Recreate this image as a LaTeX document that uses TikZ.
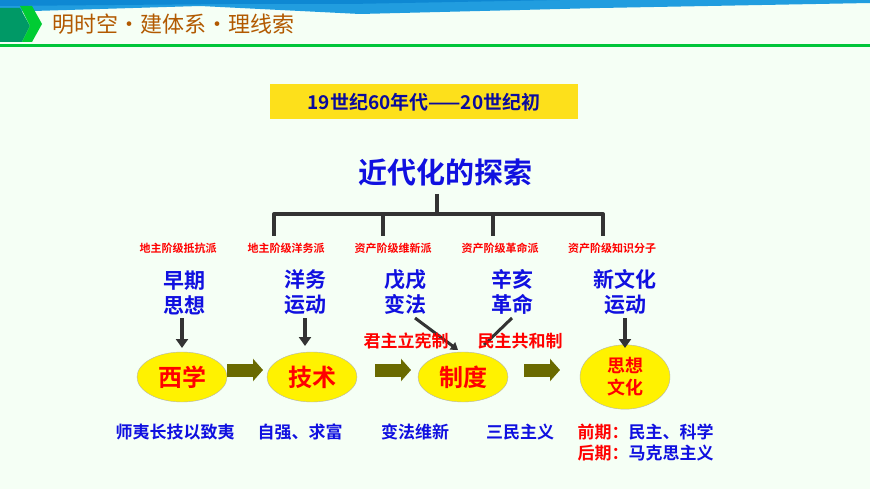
\documentclass[tikz,border=0pt]{standalone}
\usepackage{fontspec}
\setmainfont{Noto Sans CJK SC}
\newfontfamily\cjkb{Noto Sans CJK SC Bold}
\usetikzlibrary{arrows.meta,shadings,shapes.geometric}
\definecolor{tblue}{HTML}{1010E0}
\definecolor{tred}{HTML}{FF0000}
\definecolor{olivea}{HTML}{6A6A00}
\tikzset{
 blue/.style={text=tblue,font=\cjkb\fontsize{21}{25}\selectfont,align=center},
 lab/.style={text=tred,font=\cjkb\fontsize{11}{13}\selectfont},
 ell/.style={ellipse,draw=gray!60,fill=yellow,minimum width=90pt,minimum height=50pt,text=tred,font=\cjkb\fontsize{24}{26}\selectfont,align=center},
 down/.style={-{Triangle[length=9pt,width=12pt]},line width=4pt,draw=black!80},
 bot/.style={font=\cjkb\fontsize{17}{20}\selectfont},
 fat/.style={-{Triangle[length=10pt,width=22pt]},line width=13pt,draw=olivea},
}
\begin{document}
\begin{tikzpicture}[x=1pt,y=-1pt]
\useasboundingbox (0,0) rectangle (870,489);
\fill[white!96!green] (0,0) rectangle (870,489);
% header
\fill[cyan!80!blue!90] (0,0) -- (870,0) -- (870,3) -- (600,8) -- (360,14) -- (200,6) -- (0,12) -- cycle;
\fill[cyan!70!blue] (0,0) -- (560,0) -- (350,4) -- (230,4) -- (0,6) -- cycle;
\fill[teal!80!green] (0,8) -- (20,8) -- (30,26) -- (22,42) -- (0,42) -- cycle;
\fill[green!60!teal] (20,6) -- (32,6) -- (42,24) -- (32,42) -- (22,42) -- (30,26) -- cycle;
\fill[green!55!teal] (0,44) rectangle (870,47);
\node[anchor=west,text=orange!70!black,font=\fontsize{22}{24}\selectfont,inner sep=0] (title) at (52,24) {明时空·建体系·理线索};
% top box
\node[fill=yellow!80!orange!90,minimum width=308pt,minimum height=35pt,text=tblue!70!black,font=\cjkb\fontsize{19}{22}\selectfont] (era) at (424,102) {19世纪60年代——20世纪初};
\node[text=tblue,font=\cjkb\fontsize{29}{32}\selectfont] (main) at (445,172) {近代化的探索};
% bracket
\coordinate (t) at (437,194);
\draw[line width=4pt,draw=black!80] (t) -- (437,214);
\draw[line width=4pt,draw=black!80,line join=round] (274,236) -- (274,214) -- (603,214) -- (603,236);
\draw[line width=4pt,draw=black!80] (383,214) -- (383,236);
\draw[line width=4pt,draw=black!80] (493,214) -- (493,236);
% labels
\node[lab] (l1) at (178,248) {地主阶级抵抗派};
\node[lab] (l2) at (286,248) {地主阶级洋务派};
\node[lab] (l3) at (393,248) {资产阶级维新派};
\node[lab] (l4) at (500,248) {资产阶级革命派};
\node[lab] (l5) at (612,248) {资产阶级知识分子};
\node[blue] (b1) at (184,293) {早期\\思想};
\node[blue] (b2) at (305,292) {洋务\\运动};
\node[blue] (b3) at (405,292) {戊戌\\变法};
\node[blue] (b4) at (512,292) {辛亥\\革命};
\node[blue] (b5) at (625,292) {新文化\\运动};
\node[ell] (e1) at (182,377) {西学};
\node[ell] (e2) at (312,377) {技术};
\node[ell] (e3) at (463,377) {制度};
\node[ell,font=\cjkb\fontsize{18}{22}\selectfont] (e4) at (625,377) {思想\\文化};
\draw[down] (182,318) -- (182,348);
\draw[down] (305,318) -- (305,346);
\draw[down] (625,318) -- (625,348);
\draw[line width=3pt,draw=black!80,-{Triangle[length=7pt,width=9pt]}] (415,318) -- (458,350);
\draw[line width=3pt,draw=black!80] (512,318) -- (484,345);
\node[text=tred,font=\cjkb\fontsize{17}{20}\selectfont] (r1) at (406,341) {君主立宪制};
\node[text=tred,font=\cjkb\fontsize{17}{20}\selectfont] (r2) at (520,341) {民主共和制};
\draw[fat] (227,370) coordinate (a1) -- ++(36,0);
\draw[fat] (375,370) coordinate (a2) -- ++(36,0);
\draw[fat] (524,370) coordinate (a3) -- ++(36,0);
% bottom
\node[bot,text=tblue] (s1) at (175,432) {师夷长技以致夷};
\node[bot,text=tblue] (s2) at (300,432) {自强、求富};
\node[bot,text=tblue] (s3) at (415,432) {变法维新};
\node[bot,text=tblue] (s4) at (520,432) {三民主义};
\node[bot,anchor=west] (s5) at (574,432) {\textcolor{tred}{前期：}\textcolor{tblue}{民主、科学}};
\node[bot,anchor=west] (s6) at (574,453) {\textcolor{tred}{后期：}\textcolor{tblue}{马克思主义}};
\end{tikzpicture}
\end{document}
